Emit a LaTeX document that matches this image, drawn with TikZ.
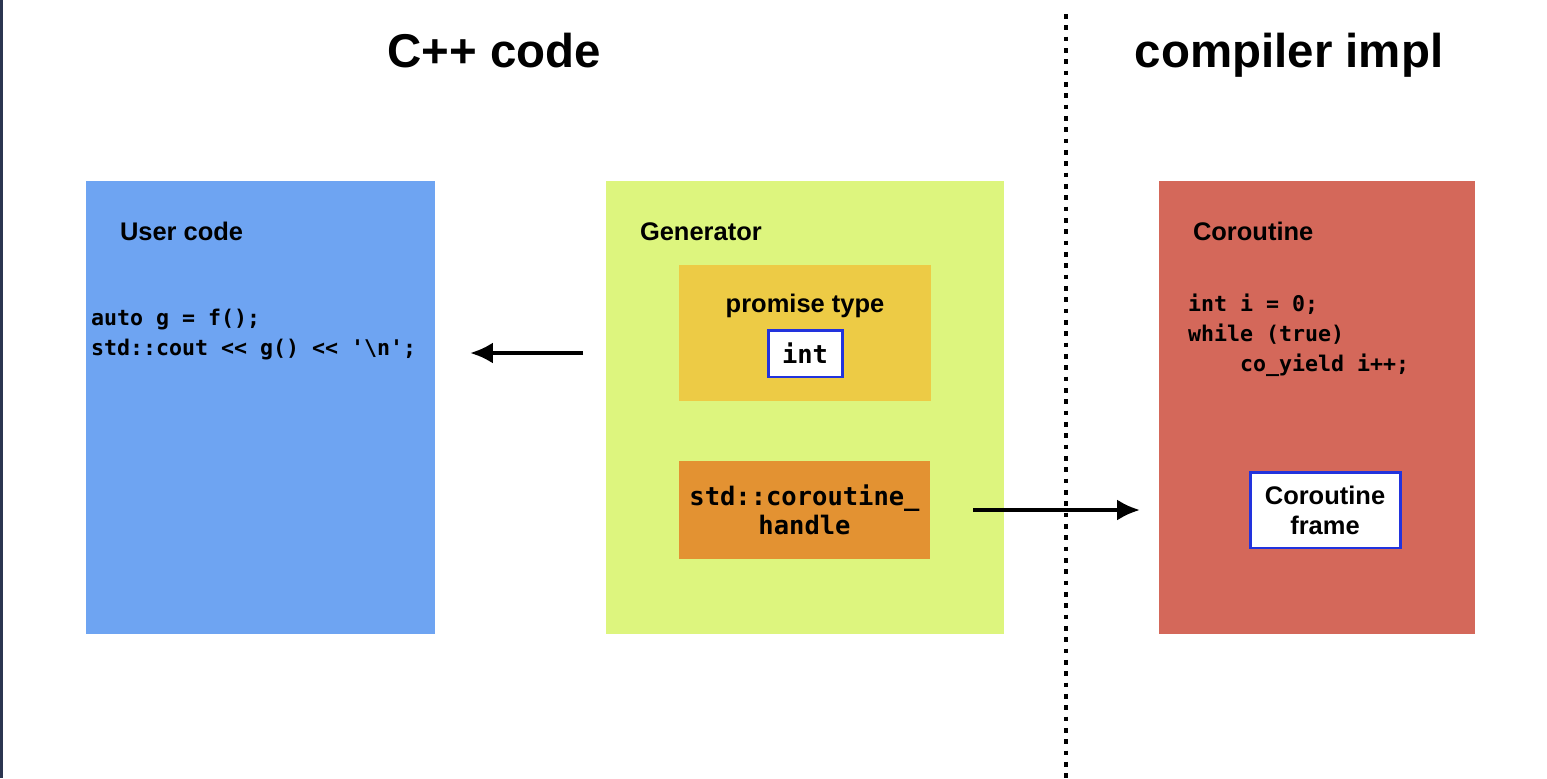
\documentclass[tikz,border=0pt]{standalone}
\usepackage{fontspec}
\setmainfont{Liberation Sans}
\setmonofont{DejaVu Sans Mono}
\usetikzlibrary{arrows.meta,positioning}
\definecolor{userblue}{HTML}{6EA4F2}
\definecolor{genlime}{HTML}{DDF57E}
\definecolor{promgold}{HTML}{EDCB45}
\definecolor{handleorange}{HTML}{E39232}
\definecolor{corored}{HTML}{D4685A}
\definecolor{frameblue}{HTML}{2233DD}
\definecolor{edgenavy}{HTML}{2B3550}

\begin{document}
\begin{tikzpicture}[
x=0.02cm,y=-0.02cm,
every node/.style={inner sep=0pt,outer sep=0pt},
title/.style={font=\fontsize{27}{32}\selectfont\bfseries,anchor=base},
panel/.style={anchor=north west,minimum height=9.06cm},
head/.style={font=\fontsize{14.5}{17}\selectfont\bfseries,anchor=base west},
code/.style={font=\fontsize{12.3}{17}\selectfont\ttfamily\bfseries,align=left,anchor=base west},
part/.style={minimum width=5.04cm},
tag/.style={draw=frameblue,line width=1.7pt,fill=white,align=center},
divider/.style={line width=2.6pt,dash pattern=on 2.6pt off 3.85pt},
arr/.style={-{Latex[length=13pt,width=12pt]},line width=2.3pt}
]
\fill[white] (0,0) rectangle (1547,778);
\fill[edgenavy] (0,0) rectangle (2.5,778);
\useasboundingbox (0,0) rectangle (1547,778);

% titles and divider
\node[title] (cpp) at (494,67) {C++ code};
\node[title] (impl) at (1289,67) {compiler impl};
\draw[divider] (1066,14) -- (1066,778);

% panels
\node[panel,fill=userblue,minimum width=6.98cm] (user) at (86,181) {};
\node[panel,fill=genlime,minimum width=7.96cm] (gen) at (606,181) {};
\node[panel,fill=corored,minimum width=6.32cm] (coro) at (1159,181) {};
\node[head] (userhd) at (120,240) {User code};
\node[head] (genhd) at (640,240) {Generator};
\node[head] (corohd) at (1193,240) {Coroutine};

% code (base = last line)
\node[code] (usercode) at (91,355) {auto g = f();\\std::cout << g() << '\textbackslash n';};
\node[code] (corocode) at (1188,371) {int i = 0;\\while (true)\\\phantom{1234}co\_yield i++;};

% generator parts
\node[part,fill=promgold,minimum height=2.72cm] (prom) at (805,333) {};
\node[font=\fontsize{14.5}{17}\selectfont\bfseries,anchor=base] (promhd) at (805,312) {promise type};
\node[tag,minimum width=1.48cm,minimum height=0.94cm,font=\fontsize{14.5}{17}\selectfont\ttfamily\bfseries] (int) at (805,353.5) {int};
\node[part,fill=handleorange,minimum height=1.96cm,align=center,font=\fontsize{14.5}{16.5}\selectfont\ttfamily\bfseries] (handle) at (804.5,510) {std::coroutine\_\\handle};
\node[tag,minimum width=3.0cm,minimum height=1.52cm,font=\fontsize{14.5}{17}\selectfont\bfseries] (frame) at (1325,510) {Coroutine\\frame};

% arrows
\coordinate (retfrom) at (583,353);
\coordinate (retto) at (470,353);
\coordinate (hfrom) at (973,510);
\coordinate (hto) at (1140,510);
\draw[arr] (retfrom) -- (retto);
\draw[arr] (hfrom) -- (hto);
\end{tikzpicture}
\end{document}
